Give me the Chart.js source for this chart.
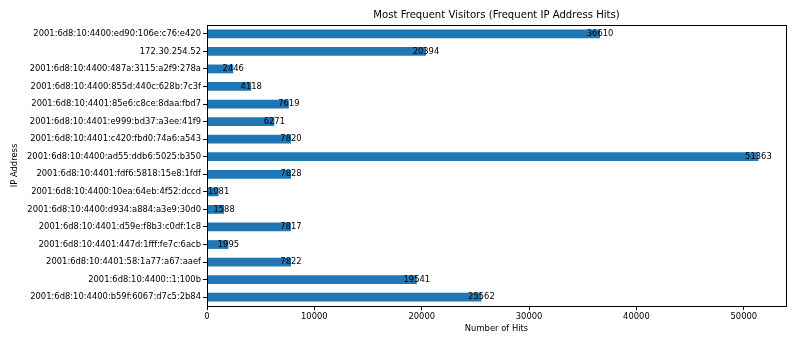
<!DOCTYPE html>
<html><head><meta charset="utf-8">
<script src="https://cdn.jsdelivr.net/npm/chart.js@4.4.1/dist/chart.umd.min.js"></script>
<style>html,body{margin:0;padding:0;background:#fff}#wrap{width:810px;height:343px}</style>
</head><body><div id="wrap"><canvas id="c" width="810" height="343"></canvas></div>
<script>
const ipAddresses = [
  "2001:6d8:10:4400:ed90:106e:c76:e420",
  "172.30.254.52",
  "2001:6d8:10:4400:487a:3115:a2f9:278a",
  "2001:6d8:10:4400:855d:440c:628b:7c3f",
  "2001:6d8:10:4401:85e6:c8ce:8daa:fbd7",
  "2001:6d8:10:4401:e999:bd37:a3ee:41f9",
  "2001:6d8:10:4401:c420:fbd0:74a6:a543",
  "2001:6d8:10:4400:ad55:ddb6:5025:b350",
  "2001:6d8:10:4401:fdf6:5818:15e8:1fdf",
  "2001:6d8:10:4400:10ea:64eb:4f52:dccd",
  "2001:6d8:10:4400:d934:a884:a3e9:30d0",
  "2001:6d8:10:4401:d59e:f8b3:c0df:1c8",
  "2001:6d8:10:4401:447d:1fff:fe7c:6acb",
  "2001:6d8:10:4401:58:1a77:a67:aaef",
  "2001:6d8:10:4400::1:100b",
  "2001:6d8:10:4400:b59f:6067:d7c5:2b84"
];
const hits = [36610, 20394, 2446, 4118, 7619, 6271, 7820, 51363, 7828, 1081, 1588, 7817, 1995, 7822, 19541, 25562];
const xTickValues = [0, 10000, 20000, 30000, 40000, 50000];
const chartTitle = "Most Frequent Visitors (Frequent IP Address Hits)";
const xTitle = "Number of Hits";
const yTitle = "IP Address";

const FONT = "'DejaVu Sans', sans-serif";
const SMALL = 8.4;
const xMax = Math.max(...hits) * 1.05;

const decor = {
  id: 'decor',
  afterDatasetsDraw(chart) {
    const ctx = chart.ctx;
    const xs = chart.scales.x;
    const meta = chart.getDatasetMeta(0);
    ctx.save();
    ctx.fillStyle = '#000';
    ctx.font = SMALL + "px " + FONT;
    ctx.textAlign = 'center';
    ctx.textBaseline = 'middle';
    meta.data.forEach((bar, i) => {
      ctx.fillText(String(hits[i]), xs.getPixelForValue(hits[i]), bar.y);
    });
    ctx.restore();
  },
  afterDraw(chart) {
    const ctx = chart.ctx, a = chart.chartArea;
    ctx.save();
    ctx.strokeStyle = '#000';
    ctx.lineWidth = 1;
    ctx.strokeRect(Math.round(a.left) + 0.5, Math.round(a.top) + 0.5, Math.round(a.right - a.left), Math.round(a.bottom - a.top));
    ctx.fillStyle = '#000';
    ctx.font = "10.1px " + FONT;
    ctx.textAlign = 'center';
    ctx.textBaseline = 'middle';
    ctx.fillText(chartTitle, (a.left + a.right) / 2, 15.5);
    ctx.restore();
  }
};

new Chart(document.getElementById('c'), {
  type: 'bar',
  data: {
    labels: ipAddresses,
    datasets: [{
      data: hits,
      backgroundColor: '#1f77b4',
      borderWidth: 0,
      categoryPercentage: 1,
      barPercentage: 0.5
    }]
  },
  options: {
    indexAxis: 'y',
    responsive: false,
    animation: false,
    devicePixelRatio: 1,
    layout: { padding: { top: 25, right: 24, bottom: 0, left: 0 } },
    plugins: { legend: { display: false }, title: { display: false }, tooltip: { enabled: false } },
    scales: {
      x: {
        type: 'linear',
        min: 0,
        max: xMax,
        afterFit(s) { s.height = 37; },
        afterBuildTicks(s) { s.ticks = xTickValues.map(v => ({ value: v })); },
        grid: { drawOnChartArea: false, drawTicks: true, tickLength: 4, color: '#000', tickColor: '#000' },
        border: { display: false },
        ticks: { color: '#000', font: { family: FONT, size: SMALL }, padding: 2, maxRotation: 0, autoSkip: false, callback: v => String(v) },
        title: { display: true, text: xTitle, color: '#000', font: { family: FONT, size: SMALL }, padding: { top: 0, bottom: 9 } }
      },
      y: {
        type: 'category',
        offset: true,
        afterFit(s) { s.width = 207; },
        grid: { drawOnChartArea: false, drawTicks: true, tickLength: 4, offset: false, color: '#000', tickColor: '#000' },
        border: { display: false },
        ticks: { color: '#000', font: { family: FONT, size: SMALL }, padding: 2, autoSkip: false },
        title: { display: true, text: yTitle, color: '#000', font: { family: FONT, size: SMALL }, padding: { top: 10, bottom: 0 } }
      }
    }
  },
  plugins: [decor]
});
</script></body></html>
